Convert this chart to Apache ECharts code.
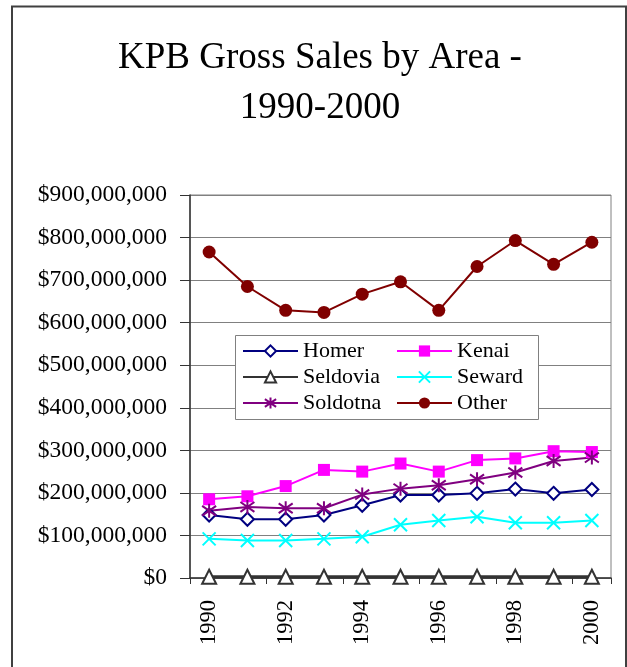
<!DOCTYPE html>
<html>
<head>
<meta charset="utf-8">
<script src="https://cdn.jsdelivr.net/npm/echarts@6/dist/echarts.min.js"></script>
<style>
html,body{margin:0;padding:0;background:#fff;overflow:hidden;}
#chart{width:627px;height:667px;}
</style>
</head>
<body>
<div id="chart"></div>
<script>
// Values in millions of dollars
var years = ['1990','1991','1992','1993','1994','1995','1996','1997','1998','1999','2000'];
var homer    = [148,138,138,148,171,195,195,199,209,199,208];
var kenai    = [185,192,216,254,250,269,250,277,281,298,296];
var seldovia = [3,3,3,3,3,3,3,3,3,3,3];
var seward   = [92,88,88,92,97,125,135,144,130,130,135];
var soldotna = [158,167,164,164,196,210,218,232,248,275,283];
var other    = [766,685,629,624,667,696,629,732,793,737,789];
var yTicks = [0,100,200,300,400,500,600,700,800,900];

var FONT = '"Liberation Serif","Times New Roman",serif';
var chart = echarts.init(document.getElementById('chart'));

function mk(name, data, color, symbol, size, fillColor, lw, bw) {
  return {
    name: name, type: 'line', data: data,
    symbol: symbol, symbolSize: size,
    lineStyle: {color: color, width: lw},
    itemStyle: {color: fillColor, borderColor: color, borderWidth: bw},
    emphasis: {disabled: true},
    animation: false, z: 2
  };
}

var option = {
  animation: false,
  backgroundColor: '#fff',
  title: {
    text: 'KPB Gross Sales by Area -\n1990-2000',
    left: 320, top: 34, textAlign: 'center', padding: 0,
    textStyle: {fontFamily: FONT, fontSize: 37, fontWeight: 'normal', color: '#000', lineHeight: 49.5}
  },
  graphic: [
    {type: 'rect', shape: {x: 12, y: 6.5, width: 614, height: 700}, style: {fill: 'none', stroke: '#404040', lineWidth: 2}, z: 10, silent: true},
    {type: 'rect', shape: {x: 235.5, y: 335.5, width: 303, height: 84}, style: {fill: '#fff', stroke: '#808080', lineWidth: 1}, z: 3, silent: true}
  ],
  grid: {left: 190, right: 16, top: 195, bottom: 89, show: true, borderColor: '#808080', borderWidth: 1, containLabel: false},
  legend: [
    {
      data: ['Homer','Seldovia','Soldotna'],
      orient: 'vertical', left: 242, top: 340, itemWidth: 55, itemHeight: 14, itemGap: 4,
      selectedMode: false, padding: 0, z: 5,
      textStyle: {fontFamily: FONT, fontSize: 22, color: '#000', lineHeight: 21}
    },
    {
      data: ['Kenai','Seward','Other'],
      orient: 'vertical', left: 396, top: 340, itemWidth: 55, itemHeight: 14, itemGap: 4,
      selectedMode: false, padding: 0, z: 5,
      textStyle: {fontFamily: FONT, fontSize: 22, color: '#000', lineHeight: 21}
    }
  ],
  xAxis: {
    type: 'category', data: years, boundaryGap: true,
    axisLine: {lineStyle: {color: '#333', width: 1.5}},
    axisTick: {show: true, inside: false, length: 6, lineStyle: {color: '#333'}},
    axisLabel: {rotate: 90, interval: 1, margin: 22, fontFamily: FONT, fontSize: 22.5, color: '#000'},
    splitLine: {show: false}
  },
  yAxis: {
    type: 'value', min: 0, max: 900, interval: 100,
    axisLine: {show: true, lineStyle: {color: '#333', width: 1.5}},
    axisTick: {show: true, inside: false, length: 10, lineStyle: {color: '#333'}},
    axisLabel: {margin: 23, fontFamily: FONT, fontSize: 23.5, color: '#000',
      formatter: function (v) { return yTicks.indexOf(v) < 0 ? '' : (v === 0 ? '$0' : '$' + v + ',000,000'); }},
    splitLine: {show: true, lineStyle: {color: '#808080', width: 1}}
  },
  series: [
    mk('Homer', homer, '#000080', 'diamond', 13, '#fff', 2, 2),
    mk('Kenai', kenai, '#FF00FF', 'rect', 12, '#FF00FF', 2, 0),
    mk('Seldovia', seldovia, '#333333', 'triangle', 14, '#fff', 3, 2),
    mk('Seward', seward, '#00FFFF', 'path://M0,0 L10,10 M10,0 L0,10', 13, '#00FFFF', 2, 2),
    mk('Soldotna', soldotna, '#800080', 'path://M5,0 L5,10 M0,1.5 L10,8.5 M10,1.5 L0,8.5', 14, '#800080', 2, 2),
    mk('Other', other, '#800000', 'circle', 13, '#800000', 2, 0)
  ]
};
chart.setOption(option);
</script>
</body>
</html>
